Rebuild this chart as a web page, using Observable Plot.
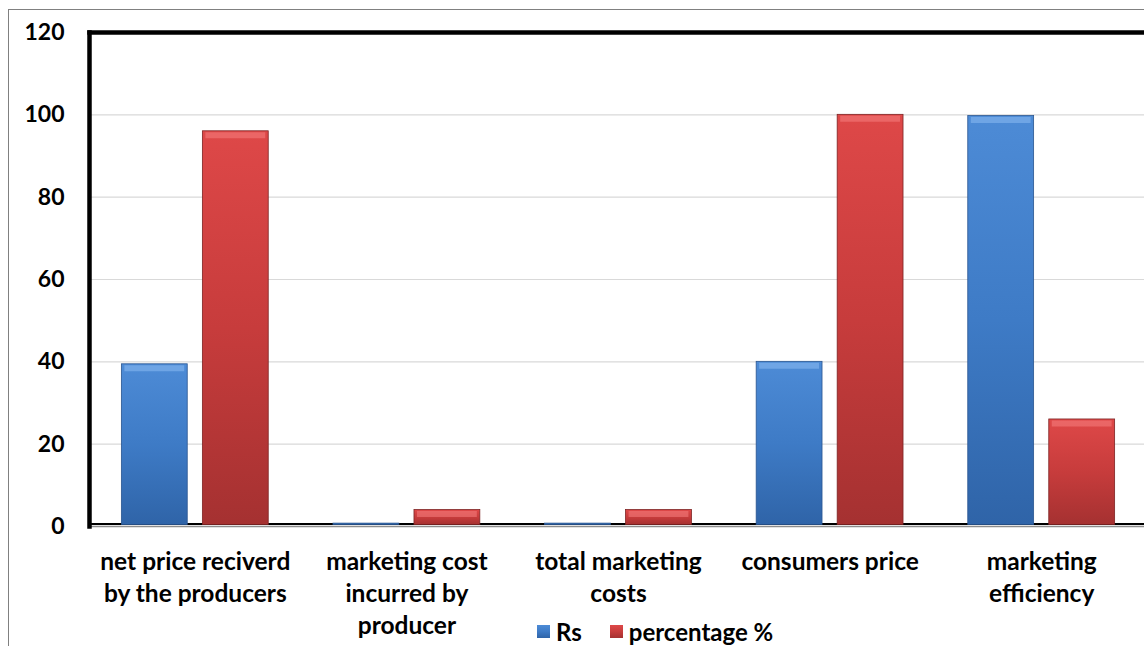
<!DOCTYPE html>
<html>
<head>
<meta charset="utf-8">
<script src="https://cdn.jsdelivr.net/npm/d3@7"></script>
<script src="https://cdn.jsdelivr.net/npm/@observablehq/plot@0.6"></script>
<style>
  html, body { margin: 0; padding: 0; background: #fff; overflow: hidden; }
  #wrap { position: relative; width: 1144px; height: 646px; overflow: hidden; }
  #outer { position: absolute; left: 8px; top: 9px; width: 1200px; height: 700px;
           border-left: 1px solid #808080; border-top: 1px solid #808080; }
  #chart { position: absolute; left: 0; top: 0; width: 1150px; }
  #key { position: absolute; left: 537px; top: 615px; }
  .lg-swatch { margin-right: 28px !important; }
  .lg-swatch > svg { margin-right: 6px !important; }
</style>
</head>
<body>
<div id="wrap">
  <div id="outer"></div>
  <div id="chart"></div>
  <div id="key"></div>
</div>
<script>
// Categories along the x axis (line breaks are part of the label)
const categories = [
  "net price reciverd\nby the producers",
  "marketing cost\nincurred by\nproducer",
  "total marketing\ncosts",
  "consumers price",
  "marketing\nefficiency"
];
const series = ["Rs", "percentage %"];
const rsValues = [39.4, 0.7, 0.7, 40, 99.7];
const pctValues = [96, 4, 4, 100, 26];
const yTicks = [0, 20, 40, 60, 80, 100, 120];
const gridTicks = [20, 40, 60, 80, 100];

const rows = categories.map((category, i) => ({category, rs: rsValues[i], pct: pctValues[i]}));

const font = "Lato, 'Open Sans', sans-serif";
const fills = ["url(#rsFill)", "url(#pctFill)"];

const chart = Plot.plot({
  width: 1150,
  height: 646,
  marginLeft: 89,
  marginRight: 3,
  marginTop: 32,
  marginBottom: 120,
  style: {fontFamily: font, color: "#000", background: "transparent", overflow: "visible", maxWidth: "none"},
  x: {type: "band", domain: categories, paddingInner: 0.306, paddingOuter: 0.153, round: false},
  y: {domain: [0, 120]},
  marks: [
    Plot.gridY(gridTicks, {stroke: "#d9d9d9", strokeOpacity: 1, strokeWidth: 1.2}),
    Plot.ruleY([0], {stroke: "#000", strokeWidth: 2, dy: -2.5}),
    // Rs bars sit on the left half of each group, percentage bars on the right
    Plot.barY(rows, {x: "category", y: "rs", fill: fills[0], stroke: "#2a5590", strokeWidth: 0.8, insetRight: 81, insetBottom: 1.5}),
    Plot.barY(rows, {x: "category", y: "pct", fill: fills[1], stroke: "#7d2424", strokeWidth: 0.8, insetLeft: 81, insetBottom: 1.5}),
    // bevel highlight along the top of each bar
    Plot.tickY(rows, {filter: d => d.rs > 2, x: "category", y: "rs", stroke: "#8cbcf2", strokeOpacity: 0.55, strokeWidth: 6, dy: 4, insetLeft: 3, insetRight: 84}),
    Plot.tickY(rows, {filter: d => d.pct > 2, x: "category", y: "pct", stroke: "#f58080", strokeOpacity: 0.55, strokeWidth: 6, dy: 4, insetLeft: 84, insetRight: 3}),
    Plot.ruleY([0], {stroke: "#8c8c8c", strokeWidth: 1.5}),
    Plot.frame({anchor: "left", stroke: "#000", strokeWidth: 4.5}),
    Plot.frame({anchor: "top", stroke: "#000", strokeWidth: 4.5}),
    Plot.axisY(yTicks, {tickSize: 0, tickPadding: 25, fontSize: 23, fontWeight: "bold", label: null}),
    Plot.axisX({tickSize: 0, tickPadding: 21, fontSize: 24.5, fontWeight: "bold", lineHeight: 1.306, label: null})
  ]
});

// gradients used by the bars and the legend swatches
const defs = d3.select(chart).insert("defs", ":first-child");
const grads = [
  ["rsFill", [[0, "#4d8bd6"], [0.5, "#3e7bc6"], [1, "#2f64a8"]]],
  ["pctFill", [[0, "#de4848"], [0.5, "#c73c3c"], [1, "#a53131"]]]
];
for (const [id, stops] of grads) {
  const g = defs.append("linearGradient").attr("id", id).attr("x1", 0).attr("y1", 0).attr("x2", 0).attr("y2", 1);
  for (const [o, c] of stops) g.append("stop").attr("offset", o).attr("stop-color", c);
}
document.getElementById("chart").append(chart);

const key = Plot.legend({
  color: {type: "ordinal", domain: series, range: fills},
  swatchSize: 13,
  className: "lg",
  style: {fontFamily: font, fontSize: "24px", fontWeight: "bold", color: "#000", margin: 0}
});
document.getElementById("key").append(key);
</script>
</body>
</html>
